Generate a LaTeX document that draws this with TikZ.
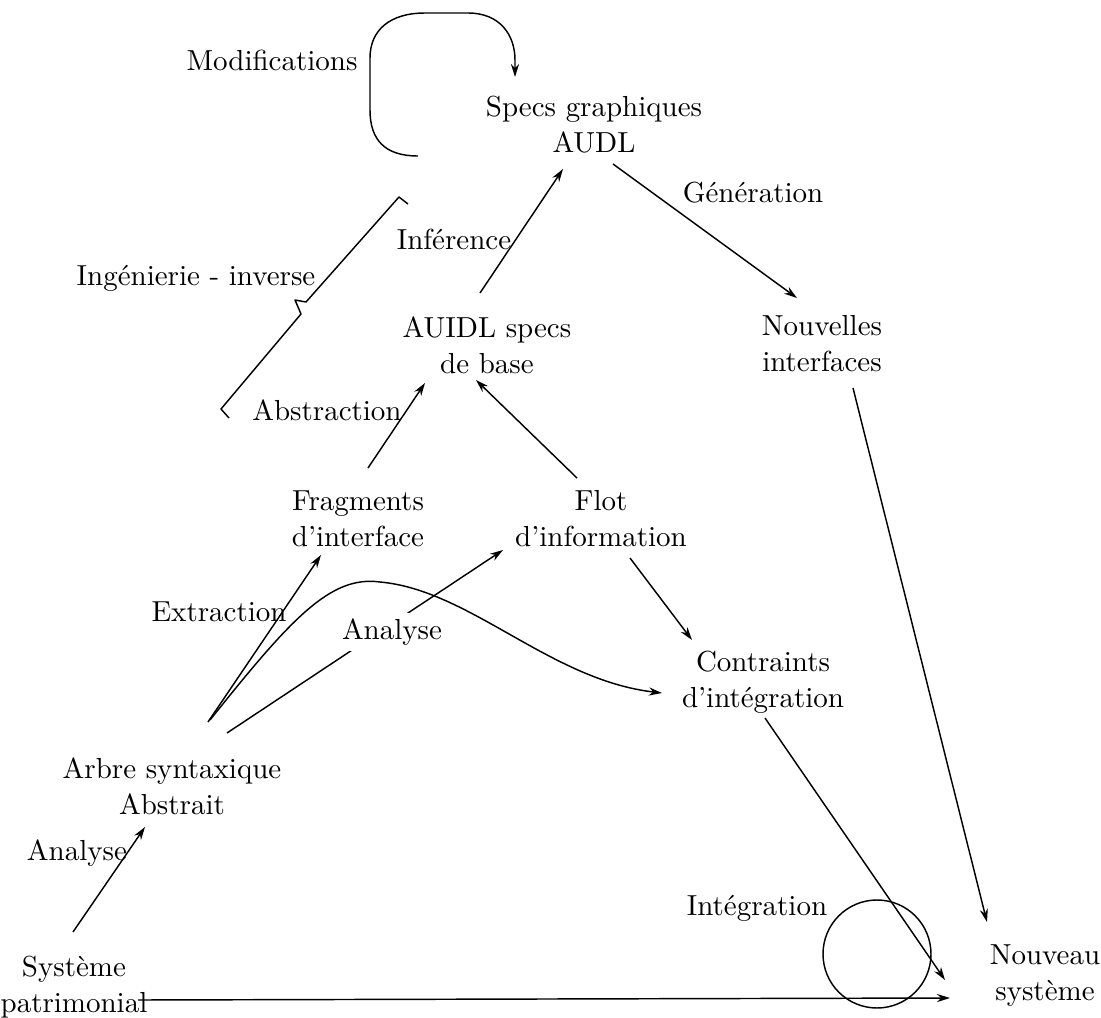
\documentclass[tikz,border=0pt]{standalone}
\usepackage{fontspec}
\usetikzlibrary{arrows.meta,calc}
\begin{document}
\begin{tikzpicture}[x=0.345pt,y=-0.345pt,
  lbl/.style={inner sep=0pt, align=center, font=\fontsize{10}{12.4}\selectfont},
  conn/.style={line width=0.5pt},
  arr/.style={conn,-{Stealth[length=4.5pt,width=2.8pt]}}]
\useasboundingbox (0,0) rectangle (1101,1018);

% states of the process
\node[lbl] (specs)   at (594,125)  {Specs graphiques\\AUDL};
\node[lbl] (auidl)   at (487,345)  {AUIDL specs\\de base};
\node[lbl] (nouv)    at (822,344)  {Nouvelles\\interfaces};
\node[lbl] (frag)    at (358,519)  {Fragments\\d'interface};
\node[lbl] (flot)    at (601,519)  {Flot\\d'information};
\node[lbl] (contr)   at (763,682)  {Contraints\\d'intégration};
\node[lbl] (arbre)   at (172,786)  {Arbre syntaxique\\Abstrait};
\node[lbl] (sys)     at (74,987)   {Système\\patrimonial};
\node[lbl] (nouveau) at (1045,976) {Nouveau\\système};

% activity labels
\node[lbl] (mod)   at (272,60)  {Modifications};
\node[lbl] (gen)   at (753,193) {Génération};
\node[lbl] (inf)   at (454,239) {Inférence};
\node[lbl] (ing)   at (196,278) {Ingénierie - inverse};
\node[lbl] (abs)   at (327,410) {Abstraction};
\node[lbl] (ext)   at (219,612) {Extraction};
\node[lbl] (an1)   at (77,853)  {Analyse};
\node[lbl] (integ) at (757,908) {Intégration};

% modification loop on the graphical specs
\draw[arr] ($(specs)+(-176,31)$)
  .. controls ($(specs)+(-209,31)$) and ($(specs)+(-224,15)$) .. ($(specs)+(-224,-15)$)
  -- ($(specs)+(-224,-67)$)
  .. controls ($(specs)+(-224,-95)$) and ($(specs)+(-204,-112)$) .. ($(specs)+(-169,-112)$)
  -- ($(specs)+(-126,-112)$)
  .. controls ($(specs)+(-94,-112)$) and ($(specs)+(-79,-90)$) .. ($(specs)+(-79,-65)$)
  -- ($(specs)+(-79,-48)$);

% reverse engineering brace, drawn as a thin angular bracket
\draw[conn,line join=round]
  ($(ing)+(33,140)$) -- ($(ing)+(25,131)$) -- ($(ing)+(105,36)$)
  -- ($(ing)+(99,22)$) -- ($(ing)+(110,24)$)
  -- ($(ing)+(203,-81)$) -- ($(ing)+(212,-74)$);

% straight transitions
\draw[arr] ($(auidl)+(-7,-52)$) -- ($(specs)+(-31,44)$);
\draw[arr] ($(specs)+(19,39)$) -- ($(nouv)+(-25,-46)$);
\draw[arr] ($(nouv)+(31,44)$) -- ($(nouveau)+(-58,-54)$);
\draw[arr] ($(frag)+(10,-51)$) -- ($(auidl)+(-62,38)$);
\draw[arr] ($(flot)+(-24,-41)$) -- ($(auidl)+(-11,35)$);
\draw[arr] ($(flot)+(29,39)$) -- ($(contr)+(-71,-42)$);
\draw[arr] ($(arbre)+(36,-64)$) -- ($(frag)+(-37,36)$);
\draw[arr] ($(arbre)+(55,-53)$) -- ($(flot)+(-98,31)$);
\draw[arr] ($(sys)+(-1,-55)$) -- ($(arbre)+(-27,41)$);
\draw[arr] ($(sys)+(64,13)$) -- ($(nouveau)+(-95,22)$);
\draw[arr] ($(contr)+(2,36)$) -- ($(nouveau)+(-100,4)$);

% curved transition from the syntax tree to the integration constraints
\draw[arr] ($(arbre)+(38,-66)$)
  .. controls ($(arbre)+(118,-166)$) and ($(arbre)+(158,-211)$) .. ($(arbre)+(208,-204)$)
  .. controls ($(arbre)+(298,-196)$) and ($(contr)+(-213,-2)$) .. ($(contr)+(-101,11)$);

% label that interrupts the analysis arrow
\node[lbl,fill=white,inner sep=2pt] (an2) at (392,632) {Analyse};

% integration circle
\draw[conn] (877,954) circle[radius=54];
\end{tikzpicture}
\end{document}
